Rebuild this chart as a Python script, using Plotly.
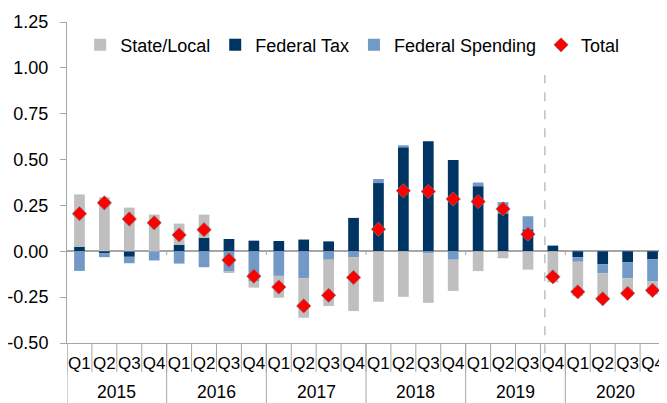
import plotly.graph_objects as go

# ---- data ----
year_labels = ["2015", "2016", "2017", "2018", "2019", "2020"]
quarter_labels = ["Q1", "Q2", "Q3", "Q4"]

state_local = [0.285, 0.295, 0.238, 0.200,
               0.115, 0.126, -0.005, -0.036,
               -0.119, -0.215, -0.252, -0.293,
               -0.275, -0.248, -0.270, -0.170,
               -0.108, -0.038, -0.100, -0.170,
               -0.186, -0.150, -0.096, -0.070]

federal_tax = [0.025, -0.010, -0.030, 0.000,
               0.036, 0.074, 0.067, 0.058,
               0.056, 0.064, 0.054, 0.182,
               0.372, 0.567, 0.600, 0.498,
               0.355, 0.207, 0.120, 0.031,
               -0.033, -0.070, -0.059, -0.044]

federal_spending = [-0.107, -0.022, -0.035, -0.050,
                    -0.067, -0.087, -0.112, -0.162,
                    -0.134, -0.147, -0.046, -0.033,
                    0.022, 0.011, -0.011, -0.046,
                    0.020, 0.061, 0.071, 0.000,
                    -0.024, -0.050, -0.088, -0.121]

total = [0.205, 0.264, 0.176, 0.155,
         0.089, 0.118, -0.048, -0.136,
         -0.195, -0.298, -0.240, -0.143,
         0.120, 0.330, 0.326, 0.285,
         0.271, 0.231, 0.093, -0.139,
         -0.221, -0.259, -0.229, -0.213]

y_tick_vals = [-0.5, -0.25, 0.0, 0.25, 0.5, 0.75, 1.0, 1.25]
y_tick_text = ["-0.50", "-0.25", "0.00", "0.25", "0.50", "0.75", "1.00", "1.25"]

# ---- build ----
periods = [f"{y} {q}" for y in year_labels for q in quarter_labels]     # unique categories
period_quarters = [q for y in year_labels for q in quarter_labels]      # shown tick text
nq = len(quarter_labels)
n = len(periods)
year_centers = [k * nq + (nq - 1) / 2 for k in range(len(year_labels))]

FONT = "Liberation Sans, Arial, sans-serif"
GRAY_AX = "#A6A6A6"

fig = go.Figure()
fig.add_trace(go.Bar(x=periods, y=federal_tax, name="Federal Tax",
                     marker=dict(color="#003462", line=dict(width=0)), legendrank=2))
fig.add_trace(go.Bar(x=periods, y=federal_spending, name="Federal Spending",
                     marker=dict(color="#7399C6", line=dict(width=0)), legendrank=3))
fig.add_trace(go.Bar(x=periods, y=state_local, name="State/Local",
                     marker=dict(color="#BFBFBF", line=dict(width=0)), legendrank=1))
fig.add_trace(go.Scatter(x=periods, y=total, name="Total", mode="markers",
                         marker=dict(symbol="diamond", size=11, color="#FF0000",
                                     line=dict(color="rgba(120,120,120,0.7)", width=1)),
                         legendrank=4))

shapes = []
# quarter separators in the label band
for i in range(n + 1):
    shapes.append(dict(type="line", xref="x", yref="paper", x0=i - 0.5, x1=i - 0.5,
                       y0=0, y1=-0.09, line=dict(color=GRAY_AX, width=1)))
# year dividers reaching the bottom
for i in range(0, n + 1, nq):
    shapes.append(dict(type="line", xref="x", yref="paper", x0=i - 0.5, x1=i - 0.5,
                       y0=0, y1=-0.19, line=dict(color=GRAY_AX, width=1)))
# small year ticks on the zero line
for i in range(nq, n, nq):
    shapes.append(dict(type="line", xref="x", yref="y", x0=i - 0.5, x1=i - 0.5,
                       y0=0, y1=-0.02, line=dict(color=GRAY_AX, width=1)))
# dashed separator
shapes.append(dict(type="line", xref="x", yref="paper", x0=18.68, x1=18.68,
                   y0=-0.032, y1=0.835, line=dict(color="#A0A0A0", width=1, dash="dash")))

# year labels (second level of the category axis)
annotations = [dict(text=yl, x=xc, xref="x", y=-0.154, yref="paper",
                    yanchor="middle", xanchor="center", showarrow=False,
                    font=dict(size=17.5, family=FONT, color="#000000"))
               for yl, xc in zip(year_labels, year_centers)]

fig.update_layout(
    width=659, height=395,
    margin=dict(l=59, r=2, t=14, b=60),
    paper_bgcolor="white", plot_bgcolor="white",
    barmode="relative", bargap=0.57,
    font=dict(family=FONT, size=18, color="#000000"),
    showlegend=True,
    legend=dict(orientation="h", x=0.022, xanchor="left", y=0.928, yanchor="middle",
                bgcolor="rgba(0,0,0,0)", font=dict(size=18), traceorder="normal"),
    shapes=shapes,
    annotations=annotations,
    xaxis=dict(type="category", range=[-0.5, n - 0.5], tickmode="array",
               tickvals=periods, ticktext=period_quarters, tickangle=0,
               showline=True, linecolor=GRAY_AX, linewidth=1, ticks="",
               showgrid=False, zeroline=False, automargin=False,
               ticklabelstandoff=5, tickfont=dict(size=17)),
    yaxis=dict(range=[-0.5, 1.25], tickvals=y_tick_vals, ticktext=y_tick_text,
               showline=True, linecolor=GRAY_AX, linewidth=1,
               ticks="outside", ticklen=6, tickcolor=GRAY_AX, ticklabelstandoff=8,
               showgrid=False, zeroline=True, zerolinecolor=GRAY_AX, zerolinewidth=1.5,
               automargin=False, tickfont=dict(size=18)),
)

fig.write_html("out.html")
